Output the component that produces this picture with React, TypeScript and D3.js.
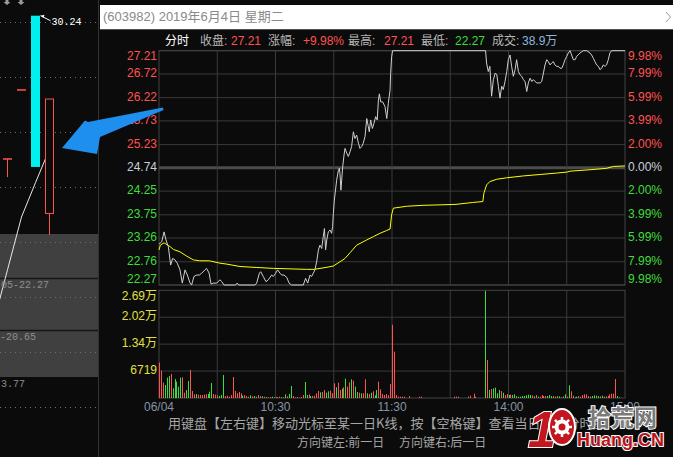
import * as d3 from 'd3';

// ---------- intraday (minute index from 09:30; 120 = 11:30/13:00, 240 = 15:00) ----------
const pricePts: [number, number][] = [
  [0, 23.13], [1.4, 23.18], [2.6, 23.39], [3.6, 23.22], [4.8, 23.08], [6, 22.69], [7, 22.83], [8.2, 22.8],
  [9.4, 22.73], [10.8, 22.59], [12, 22.31], [13.4, 22.59], [14.6, 22.48], [16, 22.31], [16.8, 22.27],
  [18, 22.45], [19.4, 22.48], [20.8, 22.48], [22, 22.52], [23.7, 22.59], [24.5, 22.62], [25.8, 22.52],
  [26.8, 22.29], [28, 22.31], [29.7, 22.31], [31.4, 22.38], [32.3, 22.34], [33.5, 22.27], [39.5, 22.27],
  [40.3, 22.31], [41, 22.27], [49.4, 22.27], [50.3, 22.31], [51.7, 22.52], [52.4, 22.55], [53.7, 22.45],
  [55.1, 22.34], [56.3, 22.38], [58, 22.48], [58.9, 22.45], [60.1, 22.52], [61.1, 22.59], [62.3, 22.52],
  [63.2, 22.48], [64.4, 22.48], [65.8, 22.43], [67, 22.31], [68.3, 22.27], [74.3, 22.27], [75.5, 22.41],
  [76.6, 22.31], [77.8, 22.48], [78.6, 22.45], [79.5, 22.52], [80.3, 22.59], [81.2, 22.76], [82.1, 23.01],
  [82.9, 23.11], [83.8, 23.04], [84.6, 23.29], [85.2, 23.46], [85.8, 23.01], [86.4, 23.22], [87.2, 23.39],
  [88.1, 23.43], [88.9, 23.36], [89.4, 23.5], [89.8, 23.78], [90.3, 24.06], [91.5, 24.48], [92.4, 24.69],
  [92.9, 24.73], [93.2, 24.62], [93.7, 24.27], [94.6, 24.76], [95.3, 25.01], [95.8, 25.15], [96.7, 25.05],
  [97.5, 24.98], [98.4, 25.08], [99.2, 25.19], [100.1, 25.5], [100.9, 25.36], [101.8, 25.43], [102.7, 25.26],
  [103.5, 25.15], [104.4, 25.19], [105.2, 25.26], [106.1, 25.4], [107, 25.78], [107.8, 25.61], [108.3, 25.5],
  [109, 25.75], [109.9, 25.57], [110.7, 25.68], [111.6, 25.82], [112.4, 25.75], [113, 26.17], [113.5, 26.3],
  [114.2, 26.13], [115.2, 26.13], [116.4, 26.03], [117.3, 25.78], [118.1, 26.1], [119, 26.38], [119.3, 26.73],
  [119.8, 27.08], [120.3, 27.21], [168.2, 27.21], [168.7, 26.95], [169.6, 26.77], [170.4, 26.88], [171.3, 26.25],
  [172.2, 26.6], [173.2, 26.74], [174, 26.7], [174.8, 26.46], [175.6, 26.21], [176.5, 26.46], [177.3, 26.39],
  [178.2, 26.56], [179.1, 26.77], [179.9, 27.02], [180.8, 27.12], [181.6, 26.88], [182.5, 26.67], [183.4, 26.81],
  [184.2, 27.02], [185.1, 26.77], [186, 26.7], [186.8, 26.67], [187.7, 26.6], [188.5, 26.56], [189.4, 26.35],
  [190.2, 26.53], [191.1, 26.63], [192, 26.56], [192.8, 26.6], [194.5, 26.53], [196.3, 26.53], [197.1, 26.56],
  [198, 26.74], [198.8, 26.91], [199.7, 27.02], [200.5, 26.98], [201.4, 26.91], [202.2, 26.95], [203.1, 26.98],
  [203.9, 26.91], [204.8, 26.88], [205.7, 26.88], [206.5, 26.84], [207.4, 26.84], [208.2, 26.91], [209.1, 27.02],
  [210, 27.09], [210.8, 27.16], [211.7, 27.21], [212.5, 27.12], [213.4, 27.02], [214.3, 27.02], [215.1, 27.09],
  [216.8, 27.16], [218.5, 27.21], [220.3, 27.21], [222, 27.16], [222.8, 27.12], [223.7, 27.05], [224.5, 26.98],
  [225.4, 26.91], [226.3, 26.88], [227.1, 26.81], [228, 26.84], [228.8, 26.91], [229.7, 26.88], [230.5, 26.91],
  [231.4, 27.02], [232.2, 27.16], [233.1, 27.21], [240, 27.21],
];

const avgPts: [number, number][] = [
  [0, 23.01], [0.7, 23.11], [2.6, 23.16], [5.7, 23.08], [7.4, 23.02], [10.8, 22.97], [14.2, 22.88], [17.7, 22.8],
  [21, 22.78], [26, 22.78], [31.4, 22.73], [35, 22.71], [41.7, 22.66], [50, 22.64], [59, 22.62], [67.5, 22.61],
  [76, 22.6], [80, 22.6], [86, 22.64], [89.8, 22.67], [93.2, 22.76], [95.8, 22.83], [98.4, 22.95], [101.8, 23.11],
  [107, 23.22], [110.4, 23.29], [113.8, 23.36], [117.3, 23.42], [119, 23.45], [119.8, 23.75], [120.7, 23.89],
  [127.5, 23.93], [136, 23.95], [144.7, 23.96], [153, 23.97], [161.6, 24.01], [166.8, 24.03], [167.3, 24.2],
  [168.7, 24.38], [170.4, 24.45], [174, 24.5], [179, 24.53], [187.7, 24.57], [196.3, 24.6], [204.8, 24.63],
  [210, 24.65], [211.7, 24.67], [222, 24.7], [230.5, 24.73], [234, 24.77], [240, 24.78],
];

// per-minute volume (shares) and side: r = up tick, g = down tick
const volumes = [
  8830, 6830, 3830, 3250, 5080, 5500, 6000, 2420, 4750, 4080, 2830, 5080, 5160, 1330, 2000, 4250, 7000, 1750, 920, 1000,
  830, 750, 750, 830, 920, 1000, 1580, 3750, 1000, 830, 670, 500, 750, 5750, 500, 580, 330, 750, 5250, 1750,
  1170, 1500, 1170, 580, 750, 500, 330, 670, 420, 500, 330, 750, 500, 420, 330, 250, 170, 250, 330, 170,
  250, 170, 330, 250, 170, 920, 420, 1000, 3000, 500, 170, 250, 100, 250, 750, 4000, 750, 920, 500, 500,
  580, 1170, 1750, 1420, 1500, 2000, 1330, 1670, 1830, 1170, 3660, 2670, 3830, 2000, 2330, 2670, 4830, 2830, 3910, 4660,
  4330, 2830, 1500, 1330, 1170, 1170, 4660, 1170, 1000, 1330, 1670, 670, 2000, 4080, 2170, 1000, 750, 1000, 670, 3500,
  18240, 11580, 750, 330, 330, 330, 330, 0, 0, 500, 0, 0, 0, 0, 330, 330, 0, 0, 0, 0,
  0, 0, 0, 0, 0, 0, 0, 0, 0, 0, 0, 0, 330, 330, 330, 0, 0, 0, 0, 330,
  580, 0, 1080, 330, 0, 0, 0, 0, 26740, 9500, 2000, 2250, 2420, 2580, 1170, 2000, 1750, 1330, 750, 1000,
  750, 830, 750, 920, 500, 330, 330, 500, 500, 670, 830, 750, 670, 420, 750, 330, 330, 750, 500, 500,
  500, 750, 500, 500, 330, 500, 420, 170, 420, 920, 330, 3170, 1670, 580, 170, 330, 500, 330, 750, 920,
  920, 500, 330, 500, 670, 580, 500, 420, 580, 330, 420, 500, 920, 1080, 1080, 4750, 500, 170, 0, 0, 0,
];
const volSide =
  'rrrgggrggggg' + 'rrggrrrgrrrrrgggrrrggg' + 'rrrrrrrrrgrrrgrgrrrgrgrrgrrgrrg' + 'grggrrrrrrggrgrrrrgrrggrrrgrrgrgrrgrggrgrrgrgrggrrr' +
  'rrrrrrrrrrrrrrrrrrrrrrrrrrrrrrrrrrrrrrrrrrrrrrrrrr' +
  'gggrgrggggrgrrgrggrgggggggrgrgrrrrgggrgrggrgrgrrggrrrrrrgggggrggrrrrrrgggg';

const priceTicks = [27.21, 26.72, 26.22, 25.73, 25.23, 24.74, 24.25, 23.75, 23.26, 22.76, 22.27];
const pctTicks = ['9.98%', '7.99%', '5.99%', '3.99%', '2.00%', '0.00%', '2.00%', '3.99%', '5.99%', '7.99%', '9.98%'];
const volTicks = [26876, 20157, 13438, 6719];
const volLabels = ['2.69万', '2.02万', '1.34万', '6719'];
const timeTicks = [0, 60, 120, 180, 240];
const timeLabels = ['06/04', '10:30', '11:30', '14:00', '15:00'];
const timeGrid = [30, 60, 90, 120, 150, 180, 210];

const headerLabels = ['收盘:', '涨幅:', '最高:', '最低:', '成交:'];
const headerValues = ['27.21', '+9.98%', '27.21', '22.27', '38.9万'];
const headerTones = ['up', 'up', 'up', 'down', 'vol'];

// ---------- daily K-line strip on the left ----------
const kOpen = [25.03, 27.54, 30.24, 23.05];
const kClose = [25.03, 27.54, 24.74, 27.21];
const kHigh = [25.03, 27.54, 30.24, 27.21];
const kLow = [24.37, 27.54, 24.74, 22.27];
const maDays = [-1, 0, 1, 2, 3];
const maVals = [19.08, 21.0, 22.92, 24.17, 25.39];
const kGrid = [16, 18, 20, 22, 24, 26, 28, 30];

const RED = '#ff5252';
const GREEN = '#3ddc3d';
const NEUTRAL = '#c8d0dc';
const GRID = '#3a3a3a';
const NUM = "'Liberation Sans', 'Noto Sans CJK SC', sans-serif";
const CJK = "'Noto Sans CJK SC', sans-serif";
const MONO = "'Liberation Mono', monospace";

export default function App() {
  const L = 159, R = 625, T = 50.7, B = 285, VT = 290.3, VB = 398;
  const x = d3.scaleLinear().domain([0, 240]).range([L, R]);
  const y = d3.scaleLinear().domain([22.27, 27.21]).range([B, T]);
  const yv = d3.scaleLinear().domain([0, 26876]).range([VB, VT]);
  const xK = d3.scaleLinear().domain([0, 3]).range([7.5, 49.5]);
  const yK = d3.scaleLinear().domain([16, 30]).range([407.3, 22.3]);

  const line = d3.line<[number, number]>().x(d => x(d[0])).y(d => y(d[1]));
  const maLine = d3.line<number>().x((_, i) => xK(maDays[i])).y(d => yK(d));

  const tone = (i: number) => (i < 5 ? RED : i === 5 ? NEUTRAL : GREEN);
  const hiIdx = d3.maxIndex(kHigh);

  return (
    <svg width={673} height={457} style={{ position: 'fixed', left: 0, top: 0, background: '#0b0b0b' }}>
      <rect width={673} height={457} fill="#0b0b0b" />

      {/* left K strip */}
      <rect x={0} y={234} width={98} height={143} fill="#404040" />
      <line x1={0} x2={98} y1={278.5} y2={278.5} stroke="#151515" strokeWidth={1.5} />
      <line x1={0} x2={98} y1={330.5} y2={330.5} stroke="#151515" strokeWidth={1.5} />
      {kGrid.map(v => (
        <line key={v} x1={0} x2={98} y1={Math.round(yK(v)) + 0.5} y2={Math.round(yK(v)) + 0.5}
          stroke="#6e6e6e" strokeDasharray="1 4" />
      ))}
      <path d={maLine(maVals) ?? ''} fill="none" stroke="#e8e8e8" strokeWidth={1} />
      {kOpen.map((o, i) => {
        const c = kClose[i], cx = xK(i);
        if (c > o) {
          return (
            <g key={i}>
              <line x1={cx} x2={cx} y1={yK(o)} y2={yK(kLow[i])} stroke={RED} />
              <rect x={cx - 4} y={yK(c)} width={8} height={yK(o) - yK(c)} fill="#0b0b0b" stroke={RED} />
            </g>
          );
        }
        if (c < o) {
          return <rect key={i} x={cx - 4.5} y={yK(o)} width={9} height={yK(c) - yK(o)} fill="#00f0f0" />;
        }
        return (
          <g key={i}>
            <line x1={cx} x2={cx} y1={yK(kHigh[i])} y2={yK(kLow[i])} stroke={RED} />
            <line x1={cx - 4.5} x2={cx + 4.5} y1={yK(o)} y2={yK(o)} stroke={RED} strokeWidth={1.5} />
          </g>
        );
      })}
      <line x1={xK(hiIdx) + 5} y1={yK(kHigh[hiIdx])} x2={xK(hiIdx) + 15} y2={yK(kHigh[hiIdx]) + 5} stroke="#fff" />
      <path d={`M${xK(hiIdx) + 5},${yK(kHigh[hiIdx])} l4,-1 l-1,3 z`} fill="#fff" />
      <text x={xK(hiIdx) + 16} y={yK(kHigh[hiIdx]) + 6.5} fill="#fff" fontFamily={MONO} fontSize={10}
        dominantBaseline="middle">{kHigh[hiIdx].toFixed(2)}</text>
      <text x={1} y={285} fill="#8e8e8e" fontFamily={MONO} fontSize={10} dominantBaseline="middle">05-22.27</text>
      <text x={0} y={337} fill="#8e8e8e" fontFamily={MONO} fontSize={10} dominantBaseline="middle">-20.65</text>
      <text x={1} y={384} fill="#8e8e8e" fontFamily={MONO} fontSize={10} dominantBaseline="middle">3.77</text>
      {[7, 21].map(cx => (
        <path key={cx} d={`M${cx - 1.5},0 V2 H${cx - 3.5} L${cx},5 L${cx + 3.5},2 H${cx + 1.5} V0 Z`} fill="#9a9a9a" />
      ))}
      <line x1={98.5} x2={98.5} y1={0} y2={457} stroke="#333" />

      {/* title bar */}
      <rect x={100} y={5} width={573} height={24.3} fill="#fff" />
      <text x={103} y={17.5} fill="#8a8a8a" fontFamily={NUM} fontSize={13} dominantBaseline="middle">
        (603982) 2019年6月4日 星期二
      </text>
      <polyline points="666,12 670.5,17 666,22" fill="none" stroke="#9a9a9a" />

      {/* header */}
      <text x={165} y={42} fill="#fff" fontFamily={CJK} fontSize={12} dominantBaseline="middle">分时</text>
      {headerLabels.map((lab, i) => (
        <g key={lab} fontSize={12} fontFamily={NUM}>
          <text x={[200, 268, 348, 421, 492][i]} y={42} fill="#b8b8b8" dominantBaseline="middle">{lab}</text>
          <text x={[231, 303, 384, 455, 522][i]} y={42} dominantBaseline="middle"
            fill={headerTones[i] === 'up' ? RED : headerTones[i] === 'down' ? GREEN : '#8fb6dc'}>{headerValues[i]}</text>
        </g>
      ))}

      {/* price panel grid */}
      {priceTicks.map((v, i) => (
        <line key={i} x1={L} x2={R} y1={y(v)} y2={y(v)} stroke={i === 5 ? '#4c4c4c' : GRID} strokeWidth={i === 5 ? 3 : 1} />
      ))}
      {timeGrid.map(t => (
        <g key={t}>
          <line x1={x(t)} x2={x(t)} y1={T} y2={B} stroke={GRID} />
          <line x1={x(t)} x2={x(t)} y1={VT} y2={VB} stroke={GRID} />
        </g>
      ))}
      <rect x={L} y={T} width={R - L} height={B - T} fill="none" stroke="#444" />
      <rect x={L} y={VT} width={R - L} height={VB - VT} fill="none" stroke="#444" />
      {volTicks.slice(1).map(v => (
        <line key={v} x1={L} x2={R} y1={yv(v)} y2={yv(v)} stroke={GRID} />
      ))}

      {/* axis labels */}
      {priceTicks.map((v, i) => {
        const ly = Math.max(T + 6, Math.min(B - 5, y(v)));
        return (
          <g key={i} fontFamily={NUM} fontSize={12}>
            <text x={157} y={ly} textAnchor="end" dominantBaseline="middle" fill={tone(i)}>{v.toFixed(2)}</text>
            <text x={628} y={ly} dominantBaseline="middle" fill={tone(i)}>{pctTicks[i]}</text>
          </g>
        );
      })}
      {volTicks.map((v, i) => (
        <text key={v} x={157} y={Math.max(VT + 6.7, yv(v))} textAnchor="end" dominantBaseline="middle"
          fill="#e0e040" fontFamily={NUM} fontSize={12}>{volLabels[i]}</text>
      ))}
      {timeTicks.map((t, i) => (
        <text key={t} x={x(t)} y={407.5} textAnchor="middle" dominantBaseline="middle" fill="#8494a6"
          fontFamily={NUM} fontSize={12}>{timeLabels[i]}</text>
      ))}

      {/* volume bars */}
      {volumes.map((v, i) => v > 0 && (
        <rect key={i} x={Math.round(x(i))} y={yv(v)} width={1} height={VB - yv(v)}
          fill={volSide[i] === 'g' ? GREEN : RED} />
      ))}

      {/* price and average lines */}
      <path d={line(avgPts) ?? ''} fill="none" stroke="#ffff00" strokeWidth={1} />
      <path d={line(pricePts) ?? ''} fill="none" stroke="#cfcfcf" strokeWidth={1} />

      {/* annotation arrow */}
      <path d="M62,148 L85,120.5 L88,122 L163,107.5 L163.5,110 L100,137 L97,154 Z" fill="#1f8fef" />

      {/* help text */}
      <text x={168} y={424} fill="#a6a6a6" fontFamily={CJK} fontSize={13} dominantBaseline="middle">
        用键盘【左右键】移动光标至某一日K线，按【空格键】查看当日历史分时图
      </text>
      <text x={297} y={444} fill="#a6a6a6" fontFamily={CJK} fontSize={12} dominantBaseline="middle">方向键左:前一日</text>
      <text x={399} y={444} fill="#a6a6a6" fontFamily={CJK} fontSize={12} dominantBaseline="middle">方向键右:后一日</text>

      {/* watermark */}
      <g>
        <text x={528} y={447} fontFamily="'Liberation Sans', sans-serif" fontWeight="bold" fontStyle="italic"
          fontSize={50} fill="#c4161e" stroke="#fff" strokeWidth={2} paintOrder="stroke">1</text>
        <ellipse cx={562} cy={427} rx={13} ry={18} fill="#c4161e" stroke="#fff" strokeWidth={2} />
        <circle cx={562} cy={427} r={7.5} fill="#fff" />
        {d3.range(8).map(k => (
          <line key={k} x1={562} y1={427} x2={562 + 10 * Math.cos(k * Math.PI / 4)} y2={427 + 10 * Math.sin(k * Math.PI / 4)}
            stroke="#fff" strokeWidth={2.5} />
        ))}
        <circle cx={562} cy={427} r={3.5} fill="#c4161e" />
        <text x={588} y={426} fontFamily={CJK} fontSize={23} fontWeight="bold" fill="#7a7a7a" stroke="#fff"
          strokeWidth={2} paintOrder="stroke">拾荒网</text>
        <text x={577} y={446} fontFamily="'Liberation Sans', sans-serif" fontWeight="bold" fontSize={18}
          fill="#b8141c" stroke="#fff" strokeWidth={2} paintOrder="stroke">Huang.CN</text>
      </g>
    </svg>
  );
}
